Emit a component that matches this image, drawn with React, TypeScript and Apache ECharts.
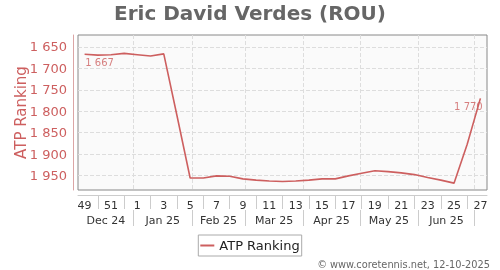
import React, { useEffect, useRef } from "react";
import * as echarts from "echarts";

const weeks = ["49","50","51","52","1","2","3","4","5","6","7","8","9","10","11","12","13","14","15","16","17","18","19","20","21","22","23","24","25","26","27"];
const ranking = [1667,1669,1668,1665,1668,1671,1666,1810,1956,1956,1951,1952,1958,1961,1963,1964,1963,1961,1958,1958,1951,1945,1939,1941,1944,1948,1955,1961,1968,1877,1770];
const months = ["Dec 24","Jan 25","Feb 25","Mar 25","Apr 25","May 25","Jun 25"];
const monthStarts = ["2024-12-01","2025-01-01","2025-02-01","2025-03-01","2025-04-01","2025-05-01","2025-06-01","2025-07-01"];
const firstWeekDate = "2024-12-06";
const yTicks = [1650,1700,1750,1800,1850,1900,1950];

const RED = "#cd5f5f";
const FONT = "DejaVu Sans";

export default function App() {
  const ref = useRef<HTMLDivElement>(null);
  useEffect(() => {
    if (!ref.current) return;
    const chart = echarts.init(ref.current, null, { renderer: "svg" });
    const base = Date.parse(firstWeekDate);
    const toWeek = (d: string) => (Date.parse(d) - base) / (7 * 86400000);
    const xMin = -0.5;
    const xMax = weeks.length - 0.5;
    const bounds = monthStarts.map(toWeek);
    const inner = bounds.filter((b) => b > xMin && b < xMax);
    const centers = months.map((_, i) => (Math.max(bounds[i], xMin) + Math.min(bounds[i + 1], xMax)) / 2);
    const last = ranking.length - 1;
    const labelData = ranking.map((v, i) => {
      if (i === 0) return { value: v, label: { show: true, position: "bottom", offset: [15, -2] } };
      if (i === last) return { value: v, label: { show: true, position: "bottom", offset: [-12, -2] } };
      return null;
    });
    const fmt = (v: number) => String(v).replace(/\B(?=(\d{3})+(?!\d))/g, " ");
    chart.setOption({
      animation: false,
      textStyle: { fontFamily: FONT },
      title: [
        { text: "Eric David Verdes (ROU)", left: "center", top: -2, textStyle: { fontSize: 20, fontWeight: "bold", color: "#666", fontFamily: FONT } },
        { text: "© www.coretennis.net, 12-10-2025", right: 10, bottom: 1, padding: 0, textStyle: { fontSize: 9.8, fontWeight: "normal", color: "#666", fontFamily: FONT } },
      ],
      legend: {
        bottom: 14, left: "center",
        data: [{ name: "ATP Ranking", icon: "rect" }],
        borderColor: "#aaa", borderWidth: 1, padding: [4, 2, 4, 2],
        itemWidth: 14, itemHeight: 2, itemGap: 5,
        textStyle: { fontSize: 13, color: "#222", fontFamily: FONT },
      },
      grid: { left: 78, right: 13, top: 35, bottom: 80, show: true, borderColor: "#888", borderWidth: 1, backgroundColor: "#fafafa", outerBoundsMode: "none", containLabel: false },
      xAxis: [
        {
          type: "category", data: weeks, boundaryGap: true, position: "bottom", offset: 5,
          axisLine: { show: true, onZero: false, lineStyle: { color: "#ccc" } },
          axisTick: { show: true, alignWithLabel: true, length: 14, interval: (i: number) => i % 2 === 1, lineStyle: { color: "#ccc" } },
          axisLabel: { interval: (i: number) => i % 2 === 0, fontSize: 11, color: "#333", margin: 5, fontFamily: FONT },
          splitLine: { show: false },
        },
        {
          type: "value", min: xMin, max: xMax, position: "bottom", offset: 20,
          axisLine: { show: false, onZero: false },
          axisTick: { show: true, length: 16, customValues: inner, lineStyle: { color: "#ccc" } },
          axisLabel: {
            customValues: centers, fontSize: 11, color: "#333", margin: 5, fontFamily: FONT,
            formatter: (v: number) => {
              let best = 0;
              centers.forEach((c, i) => { if (Math.abs(c - v) < Math.abs(centers[best] - v)) best = i; });
              return months[best];
            },
          },
          splitLine: { show: true, lineStyle: { color: "#ddd", type: "dashed" } },
        },
      ],
      yAxis: {
        type: "value", inverse: true, min: 1622, max: 1984, offset: 5, position: "left",
        name: "ATP Ranking", nameLocation: "middle", nameGap: 45, nameMoveOverlap: false,
        nameTextStyle: { fontSize: 15, color: RED, fontFamily: FONT },
        axisLine: { show: true, onZero: false, lineStyle: { color: "#dba5a5" } },
        axisTick: { show: false, customValues: yTicks },
        axisLabel: { customValues: yTicks, fontSize: 13, color: RED, margin: 6, formatter: (v: number) => fmt(v), fontFamily: FONT },
        splitLine: { show: true, lineStyle: { color: "#ddd", type: "dashed" } },
      },
      series: [
        {
          name: "ATP Ranking", type: "line", xAxisIndex: 0, symbol: "none",
          lineStyle: { color: RED, width: 1.6 }, itemStyle: { color: RED },
          data: ranking,
        },
        {
          name: "labels", type: "scatter", xAxisIndex: 0, symbol: "circle", symbolSize: 1,
          itemStyle: { color: "rgba(0,0,0,0)" },
          label: { fontSize: 10, color: RED, fontFamily: FONT, formatter: (p: any) => fmt(p.value) },
          data: labelData,
        },
      ],
    });
    return () => chart.dispose();
  }, []);
  return <div ref={ref} style={{ width: 500, height: 270, position: "fixed", left: 0, top: 0 }} />;
}
